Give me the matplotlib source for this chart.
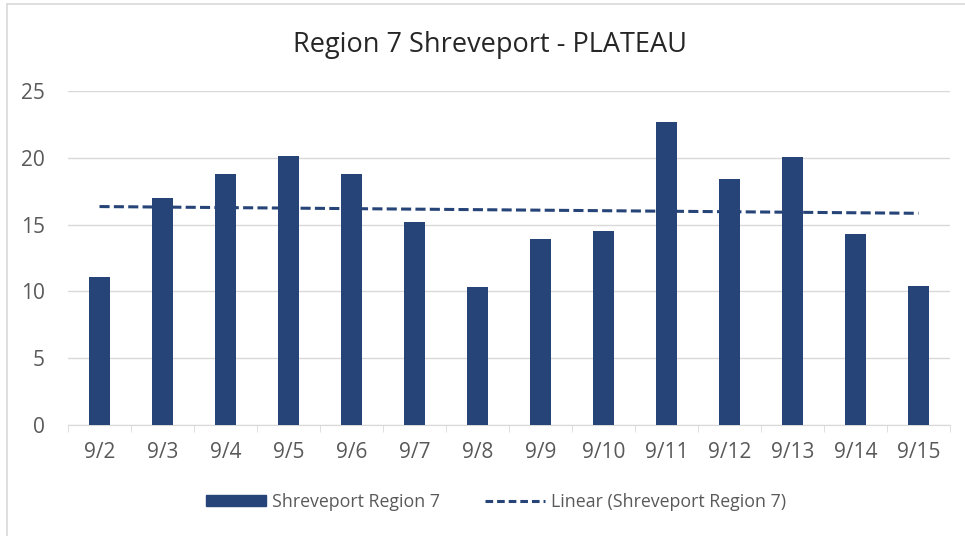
import matplotlib
matplotlib.use("Agg")
import matplotlib.pyplot as plt
import numpy as np
from matplotlib.lines import Line2D

# Data
dates = ["9/2", "9/3", "9/4", "9/5", "9/6", "9/7", "9/8",
         "9/9", "9/10", "9/11", "9/12", "9/13", "9/14", "9/15"]
values = [11.06, 16.96, 18.75, 20.14, 18.75, 15.16, 10.31,
          13.89, 14.54, 22.63, 18.38, 20.04, 14.27, 10.41]

BAR = "#264478"
GRID = "#d9d9d9"
TXT = "#595959"

plt.rcParams["font.family"] = ["Open Sans", "DejaVu Sans"]

W, H = 965, 536
fig = plt.figure(figsize=(W / 100, H / 100), dpi=100)
ax = fig.add_axes([68 / W, 1 - 425.3 / H, (950 - 68) / W, (425.3 - 90.7) / H])

x = np.arange(len(dates))
ax.bar(x, values, width=0.32, color=BAR, label="Shreveport Region 7", zorder=3)

# linear trendline
slope, icpt = np.polyfit(x, values, 1)
ax.plot(x, slope * x + icpt, color=BAR, lw=2.2, ls=(0, (3.3, 1.4)),
        label="Linear (Shreveport Region 7)", zorder=4)

ax.set_xlim(-0.5, len(dates) - 0.5)
ax.set_ylim(0, 25)
ax.set_yticks(range(0, 26, 5))
ax.yaxis.grid(True, color=GRID, lw=1)
ax.set_axisbelow(True)
for s in ["top", "right", "left"]:
    ax.spines[s].set_visible(False)
ax.spines["bottom"].set_color(GRID)

ax.set_xticks(x)
ax.set_xticklabels(dates)
ax.set_xticks(np.arange(-0.5, len(dates), 1), minor=True)
ax.tick_params(axis="x", which="major", length=0, pad=12, labelsize=15, colors=TXT)
ax.tick_params(axis="x", which="minor", length=5, color=GRID)
ax.tick_params(axis="y", length=0, pad=16.5, labelsize=15, colors=TXT)

fig.text(490 / W, 1 - 45 / H, "Region 7 Shreveport - PLATEAU",
         ha="center", va="center", fontsize=19.5, color="#262626")

handles = [plt.Rectangle((0, 0), 1, 1, color=BAR),
           Line2D([0], [0], color=BAR, lw=2.2, ls=(0, (2.5, 1.3)))]
fig.legend(handles, ["Shreveport Region 7", "Linear (Shreveport Region 7)"],
           loc="center", bbox_to_anchor=(496 / W, 1 - 502 / H), ncol=2,
           frameon=False, fontsize=12.8, labelcolor=TXT,
           handlelength=3.4, handleheight=0.6, columnspacing=2.5, handletextpad=0.35)

# chart border (top and left visible)
fig.add_artist(Line2D([7 / W, 7 / W], [0, 1 - 4 / H], color=GRID, lw=1.2))
fig.add_artist(Line2D([7 / W, 1], [1 - 4 / H, 1 - 4 / H], color=GRID, lw=1.2))

fig.savefig("out.png", dpi=100)
